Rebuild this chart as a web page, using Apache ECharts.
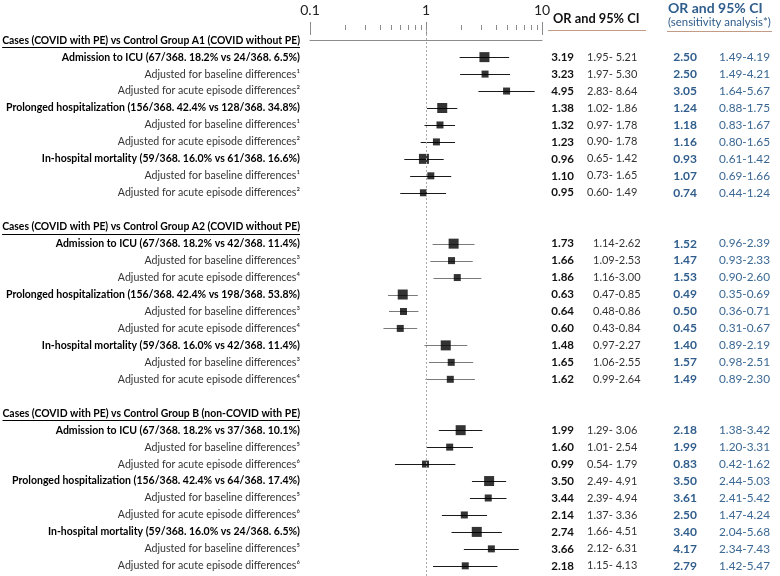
<!DOCTYPE html>
<html><head><meta charset="utf-8">
<script src="https://cdn.jsdelivr.net/npm/echarts@6/dist/echarts.min.js"></script>
<style>html,body{margin:0;padding:0;background:#fff}#c{width:780px;height:576px}</style>
</head><body><div id="c"></div>
<script>
const groupHeaders = [
  "Cases (COVID with PE) vs Control Group A1 (COVID without PE)",
  "Cases (COVID with PE) vs Control Group A2 (COVID without PE)",
  "Cases (COVID with PE) vs Control Group B (non-COVID with PE)"
];
const rowLabels = [
  "Admission to ICU (67/368. 18.2% vs 24/368. 6.5%)",
  "Adjusted for baseline differences\u00b9",
  "Adjusted for acute episode differences\u00b2",
  "Prolonged hospitalization (156/368. 42.4% vs 128/368. 34.8%)",
  "Adjusted for baseline differences\u00b9",
  "Adjusted for acute episode differences\u00b2",
  "In-hospital mortality (59/368. 16.0% vs 61/368. 16.6%)",
  "Adjusted for baseline differences\u00b9",
  "Adjusted for acute episode differences\u00b2",
  "Admission to ICU (67/368. 18.2% vs 42/368. 11.4%)",
  "Adjusted for baseline differences\u00b3",
  "Adjusted for acute episode differences\u2074",
  "Prolonged hospitalization (156/368. 42.4% vs 198/368. 53.8%)",
  "Adjusted for baseline differences\u00b3",
  "Adjusted for acute episode differences\u2074",
  "In-hospital mortality (59/368. 16.0% vs 42/368. 11.4%)",
  "Adjusted for baseline differences\u00b3",
  "Adjusted for acute episode differences\u2074",
  "Admission to ICU (67/368. 18.2% vs 37/368. 10.1%)",
  "Adjusted for baseline differences\u2075",
  "Adjusted for acute episode differences\u2076",
  "Prolonged hospitalization (156/368. 42.4% vs 64/368. 17.4%)",
  "Adjusted for baseline differences\u2075",
  "Adjusted for acute episode differences\u2076",
  "In-hospital mortality (59/368. 16.0% vs 24/368. 6.5%)",
  "Adjusted for baseline differences\u2075",
  "Adjusted for acute episode differences\u2076"
];
const orVals   = [3.19,3.23,4.95,1.38,1.32,1.23,0.96,1.10,0.95, 1.73,1.66,1.86,0.63,0.64,0.60,1.48,1.65,1.62, 1.99,1.60,0.99,3.50,3.44,2.14,2.74,3.66,2.18];
const ciLow    = [1.95,1.97,2.83,1.02,0.97,0.90,0.65,0.73,0.60, 1.14,1.09,1.16,0.47,0.48,0.43,0.97,1.06,0.99, 1.29,1.01,0.54,2.49,2.39,1.37,1.66,2.12,1.15];
const ciHigh   = [5.21,5.30,8.64,1.86,1.78,1.78,1.42,1.65,1.49, 2.62,2.53,3.00,0.85,0.86,0.84,2.27,2.55,2.64, 3.06,2.54,1.79,4.91,4.94,3.36,4.51,6.31,4.13];
const sensOr   = [2.50,2.50,3.05,1.24,1.18,1.16,0.93,1.07,0.74, 1.52,1.47,1.53,0.49,0.50,0.45,1.40,1.57,1.49, 2.18,1.99,0.83,3.50,3.61,2.50,3.40,4.17,2.79];
const sensLow  = [1.49,1.49,1.64,0.88,0.83,0.80,0.61,0.69,0.44, 0.96,0.93,0.90,0.35,0.36,0.31,0.89,0.98,0.89, 1.38,1.20,0.42,2.44,2.41,1.47,2.04,2.34,1.42];
const sensHigh = [4.19,4.21,5.67,1.75,1.67,1.65,1.42,1.66,1.24, 2.39,2.33,2.60,0.69,0.71,0.67,2.19,2.51,2.30, 3.42,3.31,1.62,5.03,5.42,4.24,5.68,7.43,5.47];
const tickValues = [0.1,0.2,0.3,0.4,0.5,0.6,0.7,0.8,0.9,1,2,3,4,5,6,7,8,9,10];
const tickLabels = {"0.1":"0.1","1":"1","10":"10"};

const FF = 'Lato, "Open Sans", sans-serif';
const ROW_MIN = -0.6, ROW_MAX = 31.6;
function rowOf(i){ return Math.floor(i/9)*11 + 1 + (i%9); }
function isMain(i){ return i%3 === 0; }
function groupOf(i){ return Math.floor(i/9); }
const mctx = document.createElement('canvas').getContext('2d');
function textW(t, font){ mctx.font = font; return mctx.measureText(t).width; }

const chart = echarts.init(document.getElementById('c'), null, {renderer:'canvas'});
const BLUE = '#2f5d8c', BLUE2 = '#3b6894', BROWN = '#c39c88';

const option = {
  animation: false,
  grid: {left: 310, right: 238, top: 30, bottom: 0},
  xAxis: {
    type: 'log', logBase: 10, min: 0.1, max: 10, position: 'top',
    axisLine: {show: true, lineStyle: {color: '#8c8c8c', width: 1}},
    axisTick: {show: false}, splitLine: {show: false}, minorTick: {show: false},
    axisLabel: {show: true, margin: 13, color: '#222', fontFamily: FF, fontSize: 14,
      formatter: v => tickLabels[String(+v.toPrecision(3))] || ''}
  },
  yAxis: {type: 'value', inverse: true, min: ROW_MIN, max: ROW_MAX, show: false},
  graphic: [
    {type:'text', left: 553, top: 12, style:{text:'OR and 95% CI', font:'bold 12.8px '+FF, fill:'#111'}},
    {type:'line', shape:{x1:548,y1:30.5,x2:646,y2:30.5}, style:{stroke:BROWN, lineWidth:1}},
    {type:'text', left: 668, top: 1, style:{text:'OR and 95% CI', font:'bold 14px '+FF, fill:BLUE}},
    {type:'text', left: 668, top: 17, style:{text:'(sensitivity analysis*)', font:'11.4px '+FF, fill:BLUE}},
    {type:'line', shape:{x1:667,y1:31.5,x2:772,y2:31.5}, style:{stroke:BROWN, lineWidth:1}}
  ],
  series: [
    {
      type: 'custom', name: 'ticks', clip: false, silent: true,
      data: tickValues.map(v => [v]),
      encode: {x: 0},
      renderItem: (params, api) => {
        const v = api.value(0);
        const p = api.coord([v, ROW_MIN]);
        const major = Math.abs(Math.log10(v) - Math.round(Math.log10(v))) < 1e-9;
        const x = Math.round(p[0]) + 0.5;
        return {type:'line', shape:{x1:x, y1:p[1]-(major?8:5), x2:x, y2:p[1]+(major?5:0)},
          style:{stroke:'#8c8c8c', lineWidth:1}};
      }
    },
    {
      type: 'custom', name: 'ci', clip: false, silent: true,
      data: orVals.map((v,i) => [ciLow[i], ciHigh[i], rowOf(i)]),
      encode: {x: [0,1], y: 2},
      renderItem: (params, api) => {
        const i = params.dataIndex;
        const p1 = api.coord([api.value(0), api.value(2)]);
        const p2 = api.coord([api.value(1), api.value(2)]);
        const y = Math.round(p1[1]) + 0.5;
        return {type:'line', shape:{x1:p1[0], y1:y, x2:p2[0], y2:y},
          style:{stroke: groupOf(i)===1 ? '#7a7a7a' : '#1a1a1a', lineWidth:1}};
      }
    },
    {
      type: 'scatter', name: 'OR', symbol: 'rect', silent: true,
      data: orVals.map((v,i) => [v, rowOf(i)]),
      symbolSize: (val, p) => isMain(p.dataIndex) ? 10 : 7,
      itemStyle: {color: '#000'},
      markLine: {
        silent: true, symbol: ['none','none'], label: {show:false},
        lineStyle: {color:'#a8a8a8', type:[2,2], width:1},
        data: [{xAxis: 1}]
      }
    },
    {
      type: 'custom', name: 'labels', clip: false, silent: true,
      data: rowLabels.map((t,i) => [1, rowOf(i)]),
      encode: {x: 0, y: 1},
      renderItem: (params, api) => {
        const i = params.dataIndex;
        const y = api.coord([1, api.value(1)])[1];
        const main = isMain(i);
        const f = main ? ('bold 10.5px ' + FF) : ('10.6px ' + FF);
        const g = groupOf(i);
        const ci1 = ciLow[i].toFixed(2) + (g===1 ? '-' : '- ') + ciHigh[i].toFixed(2);
        const ci2 = sensLow[i].toFixed(2) + '-' + sensHigh[i].toFixed(2);
        const mk = (x, text, font, fill, align) => ({type:'text', x: x, y: y,
          style:{text: text, font: font, fill: fill, align: align, verticalAlign:'middle',
                 textAlign: align, textVerticalAlign: 'middle'}});
        return {type:'group', children:[
          mk(300, rowLabels[i], f, main ? '#000' : '#333', 'right'),
          mk(574, orVals[i].toFixed(2), 'bold 11.5px '+FF, '#111', 'right'),
          mk(g===1 ? 593 : 587, ci1, '11px '+FF, '#333', 'left'),
          mk(697, sensOr[i].toFixed(2), 'bold 12px '+FF, BLUE, 'right'),
          mk(719, ci2, '11.8px '+FF, BLUE2, 'left')
        ]};
      }
    },
    {
      type: 'custom', name: 'headers', clip: false, silent: true,
      data: groupHeaders.map((t,g) => [1, g*11]),
      encode: {x: 0, y: 1},
      renderItem: (params, api) => {
        const g = params.dataIndex;
        const y = api.coord([1, api.value(1)])[1];
        const f = 'bold 10.4px ' + FF;
        const w = textW(groupHeaders[g], f);
        return {type:'group', children:[
          {type:'text', x:300, y:y, style:{text:groupHeaders[g], font:f, fill:'#000',
            align:'right', verticalAlign:'middle', textAlign:'right', textVerticalAlign:'middle'}},
          {type:'line', shape:{x1:300-w, y1:Math.round(y+7)+0.5, x2:300, y2:Math.round(y+7)+0.5},
            style:{stroke:'#000', lineWidth:1}}
        ]};
      }
    }
  ]
};
chart.setOption(option);
</script></body></html>
